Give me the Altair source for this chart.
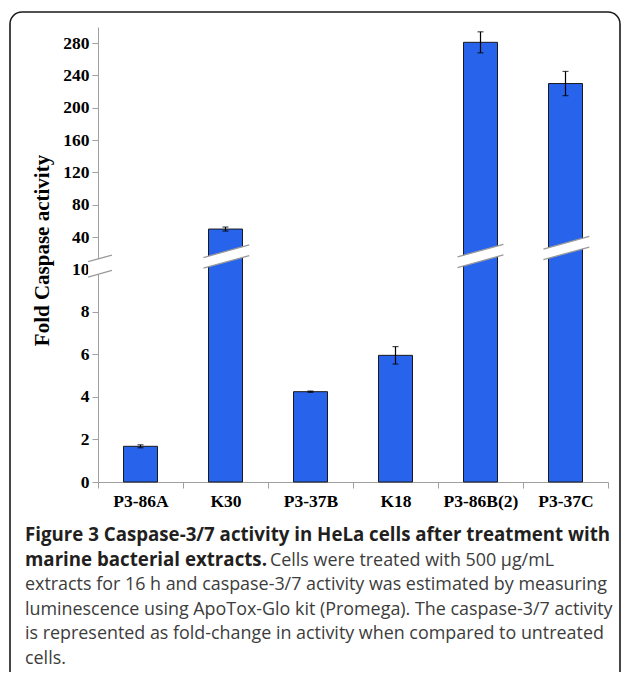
import altair as alt
import pandas as pd

# ---------------- data ----------------
categories = ["P3-86A", "K30", "P3-37B", "K18", "P3-86B(2)", "P3-37C"]
values = [1.68, 50, 4.25, 5.96, 281, 230]
errors = [0.07, 2.5, 0.03, 0.41, 13, 15]

lower_ticks = [0, 2, 4, 6, 8, 10]
upper_ticks = [40, 80, 120, 160, 200, 240, 280]

# broken axis: below 10 linear, above compressed
BREAK = 10
K = 0.03804
T_TOP = 21.41

# break symbols (x in category units, t in transformed units)
break_x = [0.024, 1.51, 4.5, 5.51]
break_t = [10.16, 10.61, 10.64, 11.01]
break_hw = [0.14, 0.27, 0.27, 0.27]
break_th = [0.72, 0.5, 0.5, 0.5]
SLOPE = 1.1

caption_lines = [
    [("Figure 3 Caspase-3/7 activity in HeLa cells after treatment with", "bold")],
    [("marine bacterial extracts.", "bold"), ("Cells were treated with 500 µg/mL", "normal")],
    [("extracts for 16 h and caspase-3/7 activity was estimated by measuring", "normal")],
    [("luminescence using ApoTox-Glo kit (Promega). The caspase-3/7 activity", "normal")],
    [("is represented as fold-change in activity when compared to untreated", "normal")],
    [("cells.", "normal")],
]


def tr(v):
    return v if v <= BREAK else BREAK + v * K


df = pd.DataFrame({
    "cat": categories,
    "t": [tr(v) for v in values],
    "lo": [tr(v - e) for v, e in zip(values, errors)],
    "hi": [tr(v + e) for v, e in zip(values, errors)],
})

tick_t = [float(v) for v in lower_ticks] + [tr(v) for v in upper_ticks]

yscale = alt.Scale(domain=[0, T_TOP], nice=False, zero=True)
xscale = alt.Scale(paddingInner=0, paddingOuter=0)
GRAY = "#a0a0a0"
SERIF = "Liberation Serif"

yaxis = alt.Axis(
    values=tick_t,
    labelExpr=f"datum.value <= {BREAK}.001 ? format(datum.value, 'd') : format(round((datum.value - {BREAK}) / {K}), 'd')",
    title="Fold Caspase activity",
    titleFont=SERIF, titleFontSize=21, titleFontWeight="bold", titleColor="black",
    titleX=-56, titleY=223, titleAngle=-90, titleAlign="center", titleBaseline="middle",
    labelFont=SERIF, labelFontSize=17.5, labelFontWeight="bold", labelColor="black",
    labelPadding=3, tickSize=6, tickColor=GRAY, domainColor=GRAY, grid=False,
    labelOverlap=False,
)
xaxis = alt.Axis(
    title=None, labelAngle=0, labelFont=SERIF, labelFontSize=17.5, labelFontWeight="bold",
    labelColor="black", labelPadding=4, tickSize=6, tickColor=GRAY, domainColor=GRAY,
    tickBand="extent", labelBaseline="top",
)


def Y(field):
    return alt.Y(field, scale=yscale, axis=yaxis, title="Fold Caspase activity")


base = alt.Chart(df)
bars = base.mark_bar(size=34, color="#2763EB", stroke="#1a1a1a", strokeWidth=1).encode(
    x=alt.X("cat:N", sort=categories, scale=xscale, axis=xaxis),
    y=Y("t:Q"),
)
err = base.mark_rule(color="black", strokeWidth=1.2).encode(
    x=alt.X("cat:N", sort=categories, scale=xscale, axis=xaxis),
    y=Y("lo:Q"),
    y2="hi:Q",
)
cap_lo = base.mark_tick(color="black", size=6, thickness=1.2).encode(
    x=alt.X("cat:N", sort=categories, scale=xscale, axis=xaxis),
    y=Y("lo:Q"),
)
cap_hi = base.mark_tick(color="black", size=6, thickness=1.2).encode(
    x=alt.X("cat:N", sort=categories, scale=xscale, axis=xaxis),
    y=Y("hi:Q"),
)
data_layer = alt.layer(bars, err, cap_lo, cap_hi)

# ---- break symbols ----
area_rows, edge_rows = [], []
for i, (c, tc, hw, th) in enumerate(zip(break_x, break_t, break_hw, break_th)):
    for sx in (-1, 1):
        x = c + sx * hw
        low = tc - th / 2 + SLOPE * (x - c)
        area_rows.append({"id": i, "bx": x, "blo": low, "bhi": low + th})
        edge_rows.append({"eid": f"{i}a", "bx": x, "by": low})
        edge_rows.append({"eid": f"{i}b", "bx": x, "by": low + th})

qx = alt.Scale(domain=[0, 6], nice=False, zero=False)
brk_area = alt.Chart(pd.DataFrame(area_rows)).mark_area(color="white", opacity=1).encode(
    x=alt.X("bx:Q", scale=qx, axis=None),
    y=Y("blo:Q"),
    y2="bhi:Q",
    detail="id:N",
)
brk_edge = alt.Chart(pd.DataFrame(edge_rows)).mark_line(color="#9a9a9a", strokeWidth=1.3).encode(
    x=alt.X("bx:Q", scale=qx, axis=None),
    y=Y("by:Q"),
    detail="eid:N",
)

one = pd.DataFrame({"a": [0]})
frame = alt.Chart(one).mark_rect(
    cornerRadius=12, fill="white", fillOpacity=0, stroke="#1a1a1a", strokeWidth=1.6
).encode(x=alt.value(-88), x2=alt.value(522), y=alt.value(-15), y2=alt.value(680))

caption_layers = []
CAP_X = -73
CAP_Y0 = 514
CAP_DY = 24.6
FS_BOLD = 18.7
FS_REG = 17.9
line2_offset = 245
for li, parts in enumerate(caption_lines):
    for pi, (txt, wt) in enumerate(parts):
        xpos = CAP_X + (line2_offset if pi == 1 else 0)
        caption_layers.append(
            alt.Chart(one).mark_text(
                align="left", baseline="alphabetic", font="Open Sans",
                fontSize=FS_BOLD if wt == "bold" else FS_REG,
                fontWeight=wt, color="#231f20" if wt == "bold" else "#3c3c3c",
            ).encode(x=alt.value(xpos), y=alt.value(CAP_Y0 + li * CAP_DY), text=alt.value(txt))
        )

overlay = alt.layer(brk_area, brk_edge, frame, *caption_layers)

chart = alt.layer(data_layer, overlay).resolve_scale(x="independent").properties(
    width=510, height=455,
    padding={"left": 90, "top": 19, "right": 13, "bottom": 190},
    autosize=alt.AutoSizeParams(type="none"),
    background="white",
).configure_view(stroke=None)

chart.save("out.html", embed_options={"renderer": "svg", "actions": False})
